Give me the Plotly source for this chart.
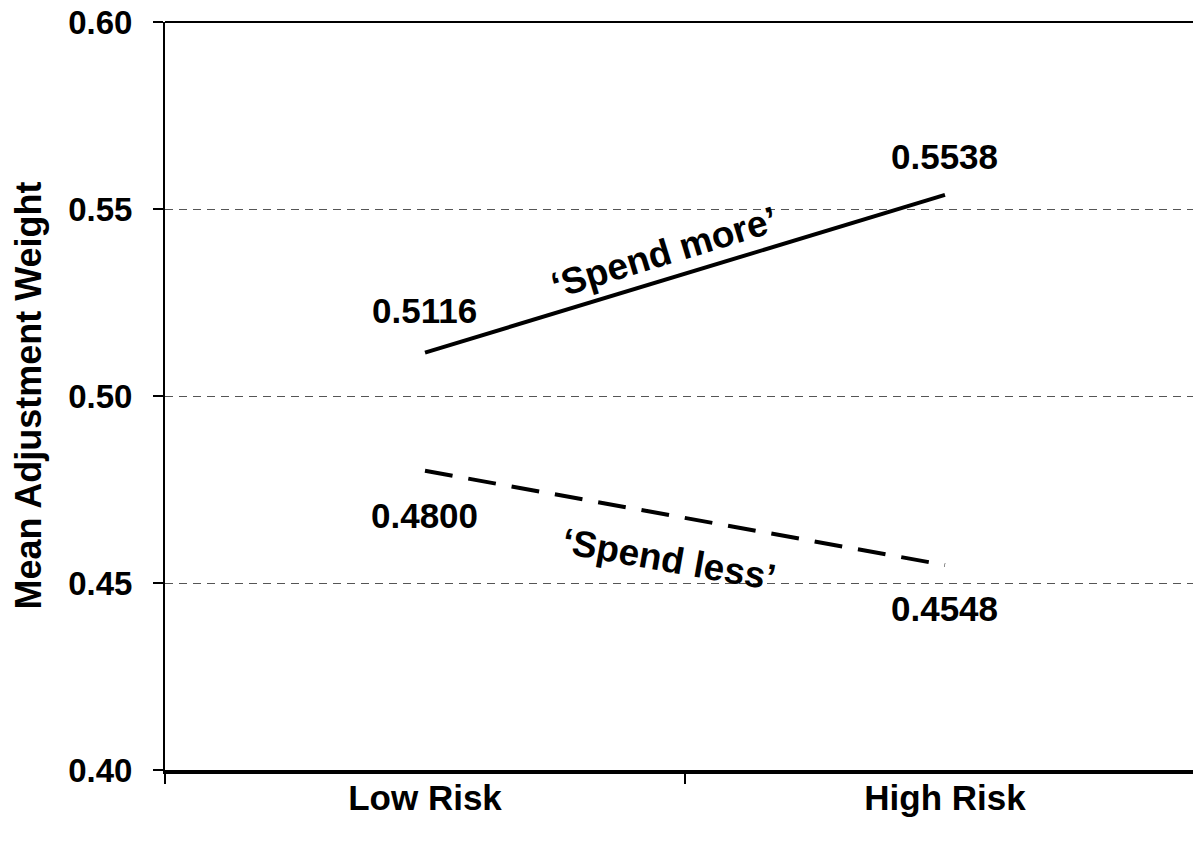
import plotly.graph_objects as go

categories = ["Low Risk", "High Risk"]
spend_more = [0.5116, 0.5538]
spend_less = [0.4800, 0.4548]
y_ticks = [0.40, 0.45, 0.50, 0.55, 0.60]
y_ticktext = ["0.40", "0.45", "0.50", "0.55", "0.60"]
more_labels = ["0.5116", "0.5538"]
less_labels = ["0.4800", "0.4548"]

FONT = "Liberation Sans, Arial, sans-serif"

fig = go.Figure()
fig.add_trace(go.Scatter(x=categories, y=spend_more, mode="lines",
                         line=dict(color="black", width=4), showlegend=False))
fig.add_trace(go.Scatter(x=categories, y=spend_less, mode="lines",
                         line=dict(color="black", width=4, dash="28px,16px"), showlegend=False))

ann = []
ann.append(dict(x=categories[0], y=spend_more[0], text=more_labels[0], yshift=42, showarrow=False))
ann.append(dict(x=categories[1], y=spend_more[1], text=more_labels[1], yshift=38, showarrow=False))
ann.append(dict(x=categories[0], y=spend_less[0], text=less_labels[0], yshift=-45, showarrow=False))
ann.append(dict(x=categories[1], y=spend_less[1], text=less_labels[1], yshift=-43, showarrow=False))
ann.append(dict(x=0.46, y=spend_more[0] + 0.46 * (spend_more[1] - spend_more[0]),
                text="\u2018Spend more\u2019", textangle=-17, yshift=28, showarrow=False))
ann.append(dict(x=0.47, y=spend_less[0] + 0.47 * (spend_less[1] - spend_less[0]),
                text="\u2018Spend less\u2019", textangle=10, yshift=-44, showarrow=False))
for a in ann:
    a["font"] = dict(family=FONT, size=35, color="black", weight="bold")
    a["xref"] = "x"
    a["yref"] = "y"
ann[4]["font"]["size"] = 37
ann[5]["font"]["size"] = 37

ann.append(dict(xref="paper", yref="y", x=0, y=0.50, xshift=-160, textangle=-90,
                text="Mean Adjustment Weight", showarrow=False,
                font=dict(family=FONT, size=36, color="black", weight="bold")))

fig.update_layout(
    width=1193, height=846,
    margin=dict(l=165, r=0, t=22, b=76),
    paper_bgcolor="white", plot_bgcolor="white",
    annotations=ann,
    font=dict(family=FONT, color="black"),
    shapes=[dict(type="line", xref="paper", yref="paper", x0=0, x1=1, y0=1, y1=1,
                 line=dict(color="black", width=2), layer="above")],
)
fig.update_xaxes(type="category", range=[-0.5, 1.477], tickson="boundaries",
                 ticks="outside", ticklen=10, tickwidth=1.5, tickcolor="black",
                 showline=True, linecolor="black", linewidth=4, showgrid=False,
                 zeroline=False, ticklabelstandoff=-6, automargin=False,
                 tickfont=dict(family=FONT, size=35, color="black", weight="bold"))
fig.update_yaxes(range=[0.40, 0.60], tickvals=y_ticks, ticktext=y_ticktext,
                 ticks="outside", ticklen=10, tickwidth=1.5, tickcolor="black",
                 showline=True, linecolor="black", linewidth=2,
                 showgrid=True, gridcolor="#555555", griddash="8px,6px", gridwidth=1,
                 zeroline=False, ticklabelstandoff=14, automargin=False,
                 ticklabeloverflow="allow",
                 tickfont=dict(family=FONT, size=33, color="black", weight="bold"))

fig.write_html("out.html", config={"displayModeBar": False},
               post_script="document.body.style.margin='0';")
